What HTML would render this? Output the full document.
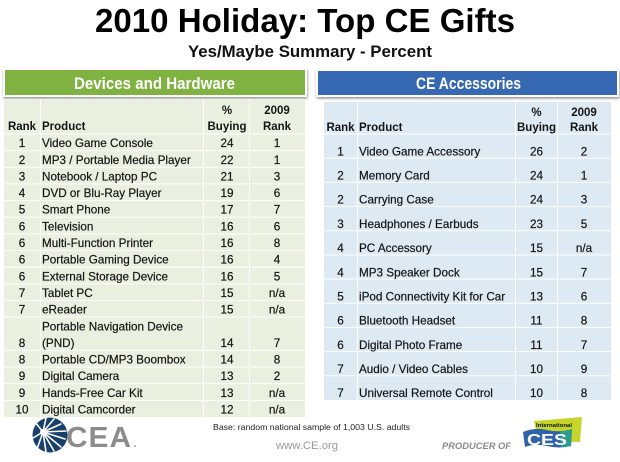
<!DOCTYPE html>
<html>
<head>
<meta charset="utf-8">
<style>
html,body{margin:0;padding:0;background:#fff;}
svg{display:block;}
text{font-family:"Liberation Sans",Arial,sans-serif;}
.d{font-size:11.7px;fill:#151515;stroke:#151515;stroke-width:0.2px;}
.h{font-size:11.5px;font-weight:bold;fill:#151515;}
.c{text-anchor:middle;}
</style>
</head>
<body>
<svg width="620" height="462" viewBox="0 0 620 462" xmlns="http://www.w3.org/2000/svg">
<defs>
<filter id="sh" x="-5%" y="-30%" width="110%" height="160%">
<feDropShadow dx="0.5" dy="1.5" stdDeviation="1.2" flood-color="#000" flood-opacity="0.45"/>
</filter>
</defs>
<rect width="620" height="462" fill="#fff"/>

<!-- Title -->
<text x="305" y="32" font-size="33" font-weight="bold" text-anchor="middle" textLength="420" lengthAdjust="spacingAndGlyphs" fill="#000">2010 Holiday: Top CE Gifts</text>
<text x="310" y="57" font-size="17" font-weight="bold" text-anchor="middle" textLength="244" lengthAdjust="spacingAndGlyphs" fill="#111">Yes/Maybe Summary - Percent</text>

<!-- Section headers -->
<rect x="3" y="68" width="304" height="29" fill="#fff" filter="url(#sh)"/>
<rect x="5" y="70" width="300" height="25" fill="#7FB241"/>
<text x="154.5" y="89" font-size="17" font-weight="bold" fill="#fff" text-anchor="middle" textLength="161" lengthAdjust="spacingAndGlyphs">Devices and Hardware</text>

<rect x="316" y="69" width="303" height="28" fill="#fff" filter="url(#sh)"/>
<rect x="318" y="71" width="299" height="24" fill="#3669B2"/>
<text x="468.5" y="89" font-size="17" font-weight="bold" fill="#fff" text-anchor="middle" textLength="105" lengthAdjust="spacingAndGlyphs">CE Accessories</text>

<!-- Left table -->
<rect x="4" y="99" width="301" height="318" fill="#E9F0E0"/>
<g fill="#fff">
<rect x="40" y="99" width="1" height="318"/>
<rect x="203" y="99" width="1" height="318"/>
<rect x="249" y="99" width="1" height="318"/>
<rect x="4" y="133.5" width="301" height="1"/>
<rect x="4" y="150.1" width="301" height="1"/>
<rect x="4" y="166.8" width="301" height="1"/>
<rect x="4" y="183.4" width="301" height="1"/>
<rect x="4" y="200.1" width="301" height="1"/>
<rect x="4" y="216.7" width="301" height="1"/>
<rect x="4" y="233.4" width="301" height="1"/>
<rect x="4" y="250" width="301" height="1"/>
<rect x="4" y="266.7" width="301" height="1"/>
<rect x="4" y="283.3" width="301" height="1"/>
<rect x="4" y="300" width="301" height="1"/>
<rect x="4" y="316.6" width="301" height="1"/>
<rect x="4" y="349.9" width="301" height="1"/>
<rect x="4" y="366.6" width="301" height="1"/>
<rect x="4" y="383.2" width="301" height="1"/>
<rect x="4" y="399.9" width="301" height="1"/>
</g>
<g class="h">
<text x="22" y="130" class="c">Rank</text>
<text x="42" y="130">Product</text>
<text x="227" y="114" class="c">%</text>
<text x="227" y="130" class="c">Buying</text>
<text x="277" y="114" class="c">2009</text>
<text x="277" y="130" class="c">Rank</text>
</g>
<g class="d">
<text x="22" y="147.1" class="c">1</text><text x="42" y="147.1">Video Game Console</text><text x="227" y="147.1" class="c">24</text><text x="277" y="147.1" class="c">1</text>
<text x="22" y="163.8" class="c">2</text><text x="42" y="163.8">MP3 / Portable Media Player</text><text x="227" y="163.8" class="c">22</text><text x="277" y="163.8" class="c">1</text>
<text x="22" y="180.4" class="c">3</text><text x="42" y="180.4">Notebook / Laptop PC</text><text x="227" y="180.4" class="c">21</text><text x="277" y="180.4" class="c">3</text>
<text x="22" y="197.1" class="c">4</text><text x="42" y="197.1">DVD or Blu-Ray Player</text><text x="227" y="197.1" class="c">19</text><text x="277" y="197.1" class="c">6</text>
<text x="22" y="213.7" class="c">5</text><text x="42" y="213.7">Smart Phone</text><text x="227" y="213.7" class="c">17</text><text x="277" y="213.7" class="c">7</text>
<text x="22" y="230.4" class="c">6</text><text x="42" y="230.4">Television</text><text x="227" y="230.4" class="c">16</text><text x="277" y="230.4" class="c">6</text>
<text x="22" y="247.0" class="c">6</text><text x="42" y="247.0">Multi-Function Printer</text><text x="227" y="247.0" class="c">16</text><text x="277" y="247.0" class="c">8</text>
<text x="22" y="263.7" class="c">6</text><text x="42" y="263.7">Portable Gaming Device</text><text x="227" y="263.7" class="c">16</text><text x="277" y="263.7" class="c">4</text>
<text x="22" y="280.3" class="c">6</text><text x="42" y="280.3">External Storage Device</text><text x="227" y="280.3" class="c">16</text><text x="277" y="280.3" class="c">5</text>
<text x="22" y="297.0" class="c">7</text><text x="42" y="297.0">Tablet PC</text><text x="227" y="297.0" class="c">15</text><text x="277" y="297.0" class="c">n/a</text>
<text x="22" y="313.6" class="c">7</text><text x="42" y="313.6">eReader</text><text x="227" y="313.6" class="c">15</text><text x="277" y="313.6" class="c">n/a</text>
<text x="42" y="330.3">Portable Navigation Device</text>
<text x="22" y="346.9" class="c">8</text><text x="42" y="346.9">(PND)</text><text x="227" y="346.9" class="c">14</text><text x="277" y="346.9" class="c">7</text>
<text x="22" y="363.6" class="c">8</text><text x="42" y="363.6">Portable CD/MP3 Boombox</text><text x="227" y="363.6" class="c">14</text><text x="277" y="363.6" class="c">8</text>
<text x="22" y="380.2" class="c">9</text><text x="42" y="380.2">Digital Camera</text><text x="227" y="380.2" class="c">13</text><text x="277" y="380.2" class="c">2</text>
<text x="22" y="396.9" class="c">9</text><text x="42" y="396.9">Hands-Free Car Kit</text><text x="227" y="396.9" class="c">13</text><text x="277" y="396.9" class="c">n/a</text>
<text x="22" y="413.5" class="c">10</text><text x="42" y="413.5">Digital Camcorder</text><text x="227" y="413.5" class="c">12</text><text x="277" y="413.5" class="c">n/a</text>
</g>

<!-- Right table -->
<rect x="324" y="102" width="287" height="298" fill="#DEEAF3"/>
<g fill="#fff">
<rect x="357" y="102" width="1" height="298"/>
<rect x="515" y="102" width="1" height="298"/>
<rect x="557" y="102" width="1" height="298"/>
<rect x="324" y="133.5" width="287" height="1"/>
<rect x="324" y="157.7" width="287" height="1"/>
<rect x="324" y="181.9" width="287" height="1"/>
<rect x="324" y="206" width="287" height="1"/>
<rect x="324" y="230.2" width="287" height="1"/>
<rect x="324" y="254.4" width="287" height="1"/>
<rect x="324" y="278.6" width="287" height="1"/>
<rect x="324" y="302.8" width="287" height="1"/>
<rect x="324" y="326.9" width="287" height="1"/>
<rect x="324" y="351.1" width="287" height="1"/>
<rect x="324" y="375.3" width="287" height="1"/>
</g>
<g class="h">
<text x="340.5" y="131" class="c">Rank</text>
<text x="359" y="131">Product</text>
<text x="536.5" y="116" class="c">%</text>
<text x="536.5" y="131" class="c">Buying</text>
<text x="584" y="116" class="c">2009</text>
<text x="584" y="131" class="c">Rank</text>
</g>
<g class="d">
<text x="340.5" y="155.4" class="c">1</text><text x="359" y="155.4">Video Game Accessory</text><text x="536.5" y="155.4" class="c">26</text><text x="584" y="155.4" class="c">2</text>
<text x="340.5" y="179.6" class="c">2</text><text x="359" y="179.6">Memory Card</text><text x="536.5" y="179.6" class="c">24</text><text x="584" y="179.6" class="c">1</text>
<text x="340.5" y="203.7" class="c">2</text><text x="359" y="203.7">Carrying Case</text><text x="536.5" y="203.7" class="c">24</text><text x="584" y="203.7" class="c">3</text>
<text x="340.5" y="227.9" class="c">3</text><text x="359" y="227.9">Headphones / Earbuds</text><text x="536.5" y="227.9" class="c">23</text><text x="584" y="227.9" class="c">5</text>
<text x="340.5" y="252.1" class="c">4</text><text x="359" y="252.1">PC Accessory</text><text x="536.5" y="252.1" class="c">15</text><text x="584" y="252.1" class="c">n/a</text>
<text x="340.5" y="276.3" class="c">4</text><text x="359" y="276.3">MP3 Speaker Dock</text><text x="536.5" y="276.3" class="c">15</text><text x="584" y="276.3" class="c">7</text>
<text x="340.5" y="300.5" class="c">5</text><text x="359" y="300.5">iPod Connectivity Kit for Car</text><text x="536.5" y="300.5" class="c">13</text><text x="584" y="300.5" class="c">6</text>
<text x="340.5" y="324.6" class="c">6</text><text x="359" y="324.6">Bluetooth Headset</text><text x="536.5" y="324.6" class="c">11</text><text x="584" y="324.6" class="c">8</text>
<text x="340.5" y="348.8" class="c">6</text><text x="359" y="348.8">Digital Photo Frame</text><text x="536.5" y="348.8" class="c">11</text><text x="584" y="348.8" class="c">7</text>
<text x="340.5" y="373.0" class="c">7</text><text x="359" y="373.0">Audio / Video Cables</text><text x="536.5" y="373.0" class="c">10</text><text x="584" y="373.0" class="c">9</text>
<text x="340.5" y="397.2" class="c">7</text><text x="359" y="397.2">Universal Remote Control</text><text x="536.5" y="397.2" class="c">10</text><text x="584" y="397.2" class="c">8</text>
</g>

<!-- Footer -->
<text x="213" y="430" font-size="8.7" fill="#222" textLength="197" lengthAdjust="spacingAndGlyphs">Base: random national sample of 1,003 U.S. adults</text>
<text x="276" y="449" font-size="11" fill="#9a9a9a" textLength="62" lengthAdjust="spacingAndGlyphs">www.CE.org</text>
<text x="442" y="449" font-size="9.5" font-weight="bold" font-style="italic" fill="#8a8a8a" textLength="69" lengthAdjust="spacingAndGlyphs">PRODUCER OF</text>

<!-- CEA logo -->
<circle cx="50" cy="435" r="17.5" fill="#17406D"/>
<g stroke="#fff" stroke-width="1.6" stroke-linecap="round">
<line x1="43" y1="432" x2="46" y2="418"/>
<line x1="43" y1="432" x2="54" y2="419"/>
<line x1="43" y1="432" x2="61" y2="424"/>
<line x1="43" y1="432" x2="66" y2="431"/>
<line x1="43" y1="432" x2="65" y2="439"/>
<line x1="43" y1="432" x2="61" y2="447"/>
<line x1="43" y1="432" x2="54" y2="451"/>
<line x1="43" y1="432" x2="46" y2="452"/>
<line x1="43" y1="432" x2="37" y2="449"/>
<line x1="43" y1="432" x2="33" y2="438"/>
<line x1="43" y1="432" x2="35" y2="422"/>
</g>
<circle cx="43" cy="432" r="3" fill="#fff"/>
<text x="66" y="447" font-size="29" font-weight="bold" fill="#8c8c8c" letter-spacing="1" textLength="66" lengthAdjust="spacingAndGlyphs">CEA</text>
<circle cx="135" cy="446" r="0.9" fill="#8c8c8c"/>

<!-- CES logo -->
<polygon points="534,421 582,417 580,442 538,441" fill="#C5D52A"/>
<path d="M523,432 Q535,427 547,430 Q560,433 572,429 L571,446 Q559,449 547,446 Q535,443 525,447 Z" fill="#2F64A8"/>
<path d="M560,431 Q566,431 572,429 L571,446 Q566,447 561,447 Z" fill="#2E9C8E"/>
<text x="547" y="445" font-size="16" font-weight="bold" fill="#fff" text-anchor="middle" textLength="40" lengthAdjust="spacingAndGlyphs">CES</text>
<text x="536" y="427" font-size="5" font-weight="bold" fill="#111" textLength="36" lengthAdjust="spacingAndGlyphs">International</text>
</svg>
</body>
</html>
